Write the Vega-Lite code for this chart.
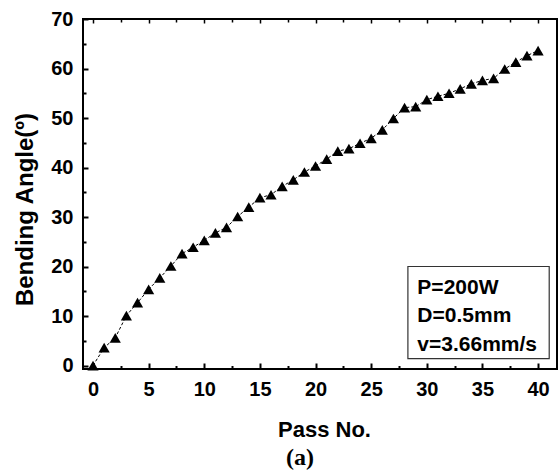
{
  "$schema": "https://vega.github.io/schema/vega-lite/v6.json",
  "width": 474,
  "height": 350,
  "autosize": "none",
  "padding": {"left": 83, "top": 19, "right": 3, "bottom": 104},
  "background": "white",
  "config": {
    "view": {"stroke": "black", "strokeWidth": 2},
    "axis": {
      "grid": false,
      "domain": false,
      "tickColor": "black",
      "labelColor": "black",
      "titleColor": "black",
      "labelFont": "Liberation Sans",
      "labelFontWeight": "bold",
      "labelFontSize": 20,
      "titleFont": "Liberation Sans",
      "titleFontWeight": "bold",
      "titleFontSize": 22
    }
  },
  "title": {
    "text": "(a)",
    "orient": "bottom",
    "font": "Liberation Serif",
    "fontSize": 24,
    "fontWeight": "bold",
    "color": "black",
    "dx": -20,
    "offset": 6
  },
  "datasets": {
    "pts": [
      {"pass": 0, "angle": 0.0},
      {"pass": 1, "angle": 3.6},
      {"pass": 2, "angle": 5.6},
      {"pass": 3, "angle": 10.1},
      {"pass": 4, "angle": 12.7},
      {"pass": 5, "angle": 15.4},
      {"pass": 6, "angle": 17.7},
      {"pass": 7, "angle": 20.1},
      {"pass": 8, "angle": 22.6},
      {"pass": 9, "angle": 23.9},
      {"pass": 10, "angle": 25.3},
      {"pass": 11, "angle": 26.8},
      {"pass": 12, "angle": 27.9},
      {"pass": 13, "angle": 30.1},
      {"pass": 14, "angle": 32.0},
      {"pass": 15, "angle": 33.9},
      {"pass": 16, "angle": 34.5},
      {"pass": 17, "angle": 36.2},
      {"pass": 18, "angle": 37.5},
      {"pass": 19, "angle": 39.1},
      {"pass": 20, "angle": 40.3},
      {"pass": 21, "angle": 41.7},
      {"pass": 22, "angle": 43.3},
      {"pass": 23, "angle": 43.8},
      {"pass": 24, "angle": 44.9},
      {"pass": 25, "angle": 45.9},
      {"pass": 26, "angle": 47.6},
      {"pass": 27, "angle": 49.9},
      {"pass": 28, "angle": 52.1},
      {"pass": 29, "angle": 52.3},
      {"pass": 30, "angle": 53.7},
      {"pass": 31, "angle": 54.4},
      {"pass": 32, "angle": 55.0},
      {"pass": 33, "angle": 55.9},
      {"pass": 34, "angle": 56.9},
      {"pass": 35, "angle": 57.6},
      {"pass": 36, "angle": 58.0},
      {"pass": 37, "angle": 59.9},
      {"pass": 38, "angle": 61.3},
      {"pass": 39, "angle": 62.6},
      {"pass": 40, "angle": 63.6}
    ],
    "box": [{"x1": 28.3, "x2": 41.0, "y1": 1.4, "y2": 20.0}],
    "txt": [
      {"label": "P=200W", "tx": 29.15, "ty": 14.5},
      {"label": "D=0.5mm", "tx": 29.15, "ty": 8.7},
      {"label": "v=3.66mm/s", "tx": 29.15, "ty": 3.0}
    ]
  },
  "resolve": {"axis": {"x": "independent", "y": "independent"}},
  "layer": [
    {
      "data": {"name": "pts"},
      "mark": {"type": "line", "color": "black", "strokeWidth": 1, "strokeDash": [3, 2]},
      "encoding": {
        "x": {
          "field": "pass", "type": "quantitative",
          "scale": {"domain": [-0.9, 41.7], "nice": false, "zero": false},
          "axis": {
            "orient": "bottom",
            "values": [0, 5, 10, 15, 20, 25, 30, 35, 40],
            "tickSize": -6, "tickWidth": 2,
            "labelPadding": 16,
            "title": "Pass No.",
            "titleX": 241, "titleY": 67,
            "titleBaseline": "alphabetic", "titleAlign": "center"
          }
        },
        "y": {
          "field": "angle", "type": "quantitative",
          "scale": {"domain": [-0.7, 70], "nice": false, "zero": false},
          "axis": {
            "orient": "left",
            "values": [0, 10, 20, 30, 40, 50, 60, 70],
            "tickSize": -5, "tickWidth": 2,
            "labelPadding": 15,
            "title": "Bending Angle(º)",
            "titleX": -58, "titleY": 190, "titleAngle": -90,
            "titleBaseline": "middle", "titleAlign": "center",
            "titleFontSize": 24
          }
        }
      }
    },
    {
      "data": {"name": "pts"},
      "mark": {"type": "point", "shape": "triangle-up", "filled": true, "size": 125, "color": "black", "opacity": 1},
      "encoding": {
        "x": {
          "field": "pass", "type": "quantitative",
          "axis": {
            "orient": "bottom",
            "values": [2.5, 7.5, 12.5, 17.5, 22.5, 27.5, 32.5, 37.5],
            "labels": false, "tickSize": -3.5, "tickWidth": 2, "title": null
          }
        },
        "y": {
          "field": "angle", "type": "quantitative",
          "axis": {
            "orient": "left",
            "values": [5, 15, 25, 35, 45, 55, 65],
            "labels": false, "tickSize": -3, "tickWidth": 2, "title": null
          }
        }
      }
    },
    {
      "data": {"name": "box"},
      "mark": {"type": "rect", "fill": "white", "stroke": "#333333", "strokeWidth": 1.2},
      "encoding": {
        "x": {
          "field": "x1", "type": "quantitative",
          "axis": {
            "orient": "top",
            "values": [0, 5, 10, 15, 20, 25, 30, 35, 40],
            "labels": false, "tickSize": -4, "tickWidth": 1.5, "title": null
          }
        },
        "x2": {"field": "x2"},
        "y": {"field": "y1", "type": "quantitative", "axis": null},
        "y2": {"field": "y2"}
      }
    },
    {
      "data": {"name": "txt"},
      "mark": {"type": "text", "align": "left", "baseline": "alphabetic", "font": "Liberation Sans", "fontWeight": "bold", "fontSize": 21, "color": "black"},
      "encoding": {
        "x": {
          "field": "tx", "type": "quantitative",
          "axis": {
            "orient": "top",
            "values": [2.5, 7.5, 12.5, 17.5, 22.5, 27.5, 32.5, 37.5],
            "labels": false, "tickSize": -3, "tickWidth": 1.5, "title": null
          }
        },
        "y": {"field": "ty", "type": "quantitative", "axis": null},
        "text": {"field": "label"}
      }
    }
  ]
}
